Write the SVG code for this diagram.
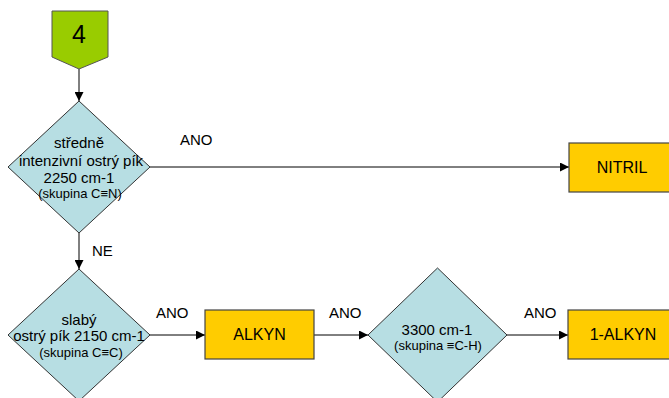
<svg xmlns="http://www.w3.org/2000/svg" width="669" height="398" viewBox="0 0 669 398">
  <defs>
    <marker id="arrow" viewBox="0 0 10 10" refX="10" refY="5" markerWidth="9" markerHeight="9" markerUnits="userSpaceOnUse" orient="auto">
      <path d="M0,0 L10,5 L0,10 z" fill="#000"/>
    </marker>
    <style>
      .conn { stroke: #000; stroke-width: 1; fill: none; marker-end: url(#arrow); }
      .decision { fill: #B7DEE3; stroke: #333; stroke-width: 1; }
      .result { fill: #FFCC00; stroke: #444; stroke-width: 1.2; }
      .start { fill: #99CC00; stroke: #555; stroke-width: 1; }
      text { font-family: "Liberation Sans", Arial, sans-serif; fill: #000; text-anchor: middle; }
      .t15 { font-size: 15px; }
      .t13 { font-size: 13px; }
      .box { font-size: 16px; }
      .lbl { font-size: 15px; text-anchor: start; }
    </style>
  </defs>
  <rect width="669" height="398" fill="#fff"/>

  <!-- connectors -->
  <g id="connectors">
    <line class="conn" x1="79" y1="69" x2="79" y2="101"/>
    <line class="conn" x1="150" y1="167" x2="569" y2="167"/>
    <line class="conn" x1="79" y1="233" x2="79" y2="269"/>
    <line class="conn" x1="150" y1="335" x2="205" y2="335"/>
    <line class="conn" x1="314" y1="335" x2="368" y2="335"/>
    <line class="conn" x1="507" y1="335" x2="568" y2="335"/>
    <text class="lbl" x="180" y="145">ANO</text>
    <text class="lbl" x="92" y="256">NE</text>
    <text class="lbl" x="156" y="318">ANO</text>
    <text class="lbl" x="329" y="318">ANO</text>
    <text class="lbl" x="524" y="318">ANO</text>
  </g>

  <!-- start connector -->
  <g id="start4">
    <path class="start" d="M52,11 H108 V57 L79,69 L52,57 z"/>
    <text x="79" y="43" style="font-size:25px">4</text>
  </g>

  <!-- decision: nitrile band -->
  <g id="q-nitril">
    <path class="decision" d="M79,101 L150,167 L79,233 L8,167 z"/>
    <text class="t15" x="79" y="148">středně</text>
    <text class="t15" x="81" y="166">intenzivní ostrý pík</text>
    <text class="t15" x="79" y="183">2250 cm-1</text>
    <text class="t13" x="80" y="198">(skupina C≡N)</text>
  </g>

  <g id="nitril">
    <rect class="result" x="569" y="143" width="106" height="49"/>
    <text class="box" x="622" y="173">NITRIL</text>
  </g>

  <!-- decision: alkyne band -->
  <g id="q-alkyn">
    <path class="decision" d="M79,269 L150,335 L79,401 L8,335 z"/>
    <text class="t15" x="79" y="325">slabý</text>
    <text class="t15" x="79" y="341">ostrý pík 2150 cm-1</text>
    <text class="t13" x="81" y="357">(skupina C≡C)</text>
  </g>

  <g id="alkyn">
    <rect class="result" x="205" y="310" width="109" height="49"/>
    <text class="box" x="259.5" y="340">ALKYN</text>
  </g>

  <!-- decision: terminal C-H -->
  <g id="q-1alkyn">
    <path class="decision" d="M437.5,268 L507,335 L437.5,402 L368,335 z"/>
    <text class="t15" x="437" y="335">3300 cm-1</text>
    <text class="t13" x="438" y="350">(skupina ≡C-H)</text>
  </g>

  <g id="alkyn-1">
    <rect class="result" x="568" y="310" width="108" height="49"/>
    <text class="box" x="623" y="340">1-ALKYN</text>
  </g>
</svg>
